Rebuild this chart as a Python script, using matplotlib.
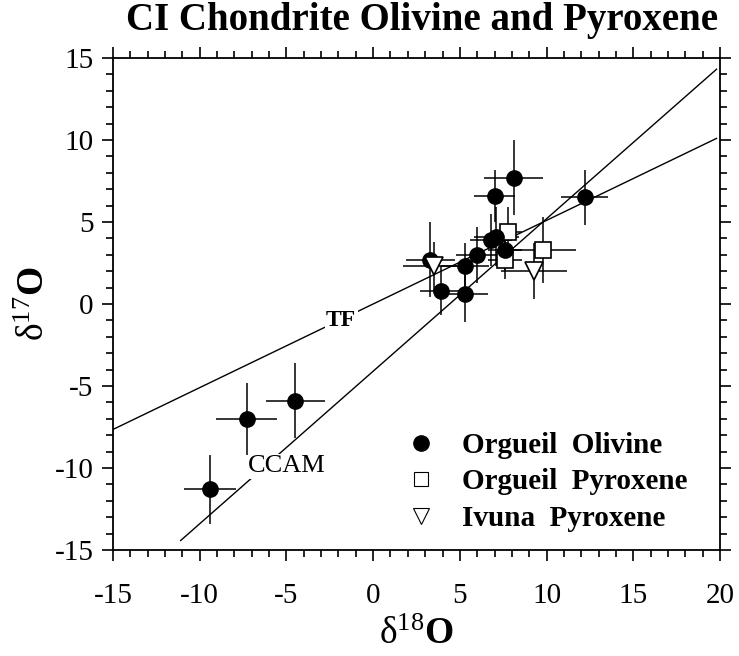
import matplotlib
matplotlib.use("Agg")
import matplotlib.pyplot as plt
from matplotlib.ticker import MultipleLocator
from matplotlib.lines import Line2D
import numpy as np

plt.rcParams['font.family'] = ['Liberation Serif', 'DejaVu Serif']
plt.rcParams['mathtext.fontset'] = 'custom'
plt.rcParams['mathtext.rm'] = 'Liberation Serif'
plt.rcParams['mathtext.it'] = 'Liberation Serif:italic'
plt.rcParams['mathtext.bf'] = 'Liberation Serif:bold'
plt.rcParams['axes.unicode_minus'] = False

# Orgueil olivine: d18O, d17O and 1-sigma errors
oliv_x = [8.1, 7.0, 12.2, 6.8, 7.1, 6.0, 7.6, 5.3, 3.3, 3.9, 5.3, -4.5, -7.3, -9.4]
oliv_y = [7.7, 6.6, 6.5, 3.9, 4.1, 3.0, 3.3, 2.3, 2.7, 0.8, 0.6, -5.9, -7.0, -11.3]
oliv_xerr = [1.7, 1.2, 1.35, 1.2, 1.3, 1.2, 1.0, 1.4, 1.4, 1.2, 1.3, 1.7, 1.75, 1.5]
oliv_yerr = [2.3, 1.6, 1.7, 1.6, 1.8, 1.7, 1.2, 1.4, 2.3, 1.5, 1.7, 2.3, 2.2, 2.1]

# Orgueil pyroxene
pyx_x = [7.8, 9.8, 7.6]
pyx_y = [4.4, 3.3, 2.7]
pyx_xerr = [0.8, 1.9, 1.0]
pyx_yerr = [1.5, 2.0, 1.2]

# Ivuna pyroxene
iv_x = [3.5, 9.3]
iv_y = [2.3, 2.0]
iv_xerr = [1.8, 1.9]
iv_yerr = [1.5, 1.7]

# reference lines
tf_slope, tf_icpt = 0.51, 0.0
ccam_slope, ccam_icpt = 0.93, -4.1

fig = plt.figure(figsize=(7.39, 6.56), dpi=100)
ax = fig.add_axes([0.1529, 0.1616, 0.8214, 0.75])

xs = np.array([-15, 19.8])
ax.plot(xs, tf_slope * xs + tf_icpt, color='black', lw=1.0, zorder=1)
xs = np.array([-11.1, 19.8])
ax.plot(xs, ccam_slope * xs + ccam_icpt, color='black', lw=1.0, zorder=1)

ax.text(-1.85, -0.98, 'TF', fontsize=17, fontweight='bold', ha='center', va='center',
        bbox=dict(facecolor='white', edgecolor='none', pad=1), zorder=2)
ax.text(-5.0, -9.9, 'CCAM', fontsize=19, ha='center', va='center',
        bbox=dict(facecolor='white', edgecolor='none', pad=1), zorder=2)

ekw = dict(ecolor='black', elinewidth=1.1, capsize=0, ls='none', zorder=3)
ax.errorbar(oliv_x, oliv_y, xerr=oliv_xerr, yerr=oliv_yerr, fmt='none', **ekw)
ax.errorbar(pyx_x, pyx_y, xerr=pyx_xerr, yerr=pyx_yerr, fmt='none', **ekw)
ax.errorbar(iv_x, iv_y, xerr=iv_xerr, yerr=iv_yerr, fmt='none', **ekw)

ax.plot(oliv_x, oliv_y, 'o', ms=11, color='black', zorder=5)
ax.plot(pyx_x, pyx_y, 's', ms=12, mfc='white', mec='black', mew=1.2, zorder=4)
ax.plot(iv_x, iv_y, 'v', ms=13, mfc='white', mec='black', mew=1.2, zorder=6)

ax.set_xlim(-15, 20)
ax.set_ylim(-15, 15)
ax.xaxis.set_major_locator(MultipleLocator(5))
ax.xaxis.set_minor_locator(MultipleLocator(1))
ax.yaxis.set_major_locator(MultipleLocator(5))
ax.yaxis.set_minor_locator(MultipleLocator(1))
ax.tick_params(which='both', direction='out', top=True, right=True, width=1.2)
ax.tick_params(which='major', length=8, labelsize=21)
ax.tick_params(which='minor', length=5)
ax.tick_params(axis='x', which='major', pad=16)
ax.tick_params(axis='y', which='major', pad=6)
for s in ax.spines.values():
    s.set_linewidth(1.3)

ax.set_xlabel(r'$\mathrm{δ}^{\mathrm{18}}\mathbf{O}$', fontsize=27, labelpad=6)
ax.set_ylabel(r'$\mathrm{δ}^{\mathrm{17}}\mathbf{O}$', fontsize=27, labelpad=2)

fig.text(0.571, 0.968, 'CI Chondrite Olivine and Pyroxene', fontsize=28,
         fontweight='bold', ha='center', va='center')

handles = [
    Line2D([], [], marker='o', ls='none', color='black', ms=11),
    Line2D([], [], marker='s', ls='none', mfc='white', mec='black', ms=10, mew=0.8),
    Line2D([], [], marker='v', ls='none', mfc='white', mec='black', ms=12, mew=0.8),
]
labels = ['Orgueil  Olivine', 'Orgueil  Pyroxene', 'Ivuna  Pyroxene']
ax.legend(handles, labels, loc='upper left', bbox_to_anchor=(0.459, 0.27),
          frameon=False, borderpad=0, handlelength=1.0, handletextpad=0.9,
          labelspacing=0.33, prop=dict(family='Liberation Serif', weight='bold', size=21))

fig.savefig('out.png', dpi=100)
